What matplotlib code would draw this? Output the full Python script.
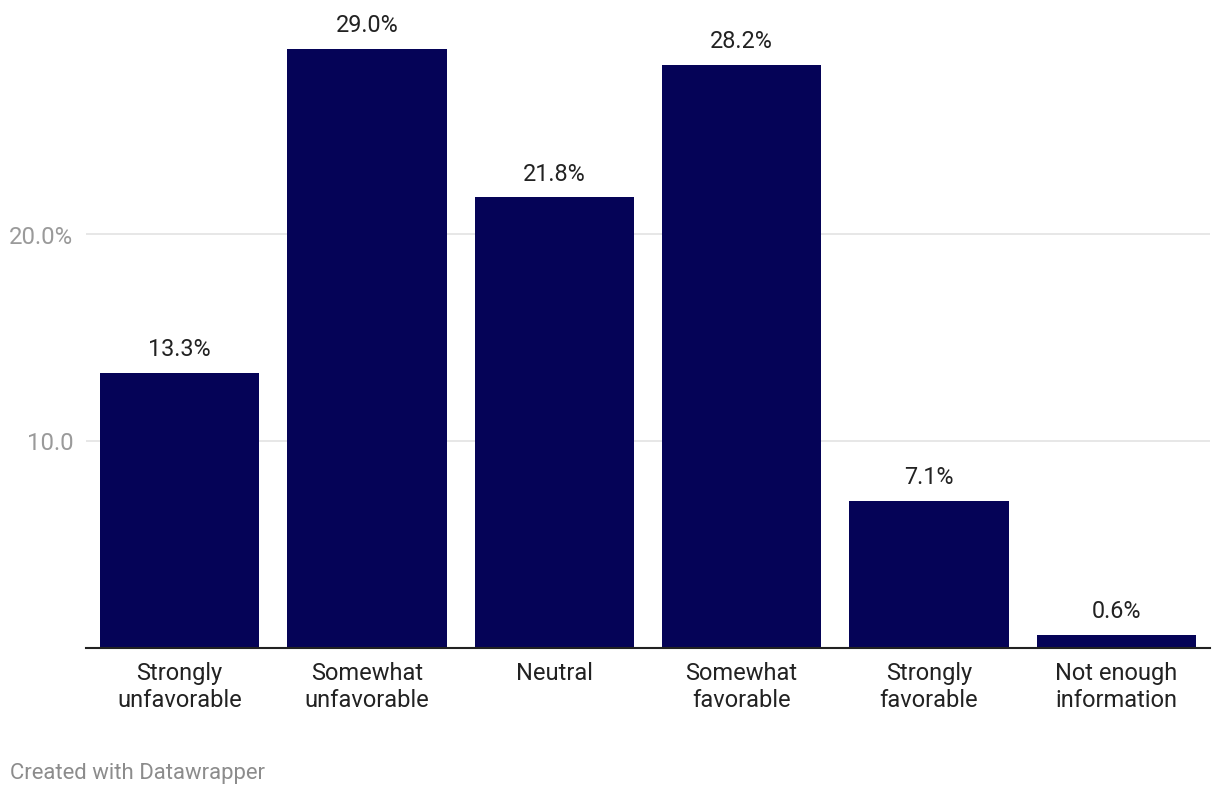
import matplotlib
matplotlib.use('Agg')
import matplotlib.pyplot as plt

plt.rcParams['font.family'] = ['Roboto', 'DejaVu Sans']

categories = ['Strongly\nunfavorable', 'Somewhat\nunfavorable', 'Neutral',
              'Somewhat\nfavorable', 'Strongly\nfavorable', 'Not enough\ninformation']
values = [13.3, 29.0, 21.8, 28.2, 7.1, 0.6]
yticks = [10, 20]
ytick_labels = ['10.0', '20.0%']

fig = plt.figure(figsize=(12.2, 7.96), dpi=100)
ax = fig.add_axes([86 / 1220, (796 - 647.5) / 796, 1124 / 1220, (647.5 - 20) / 796])

x = range(len(categories))
bars = ax.bar(x, values, width=0.85, color='#050357', zorder=3)

for xi, v in zip(x, values):
    ax.annotate(f'{v:.1f}%', (xi, v), xytext=(0, 8.5), textcoords='offset points',
                ha='center', va='bottom', fontsize=16.8, color='#222222')

ax.set_xlim(-0.5, len(categories) - 0.5)
ax.set_ylim(0, (647.5 - 20) / 20.65)
ax.set_yticks(yticks)
ax.set_yticklabels(ytick_labels, fontsize=17.2, color='#9a9a9a')
ax.yaxis.grid(True, color='#e3e3e3', linewidth=1.2, zorder=0)
ax.tick_params(axis='y', length=0, pad=9)
ax.set_xticks(list(x))
ax.set_xticklabels(categories, fontsize=17, color='#222222', linespacing=1.22)
ax.tick_params(axis='x', length=0, pad=10.5)

for s in ['top', 'right', 'left']:
    ax.spines[s].set_visible(False)
ax.spines['bottom'].set_color('#222222')
ax.spines['bottom'].set_linewidth(1.5)
ax.spines['bottom'].set_zorder(4)

fig.text(10 / 1220, 1 - 773 / 796, 'Created with Datawrapper', fontsize=15.9,
         color='#8c8c8c', ha='left', va='center')

fig.savefig('out.png', dpi=100)
